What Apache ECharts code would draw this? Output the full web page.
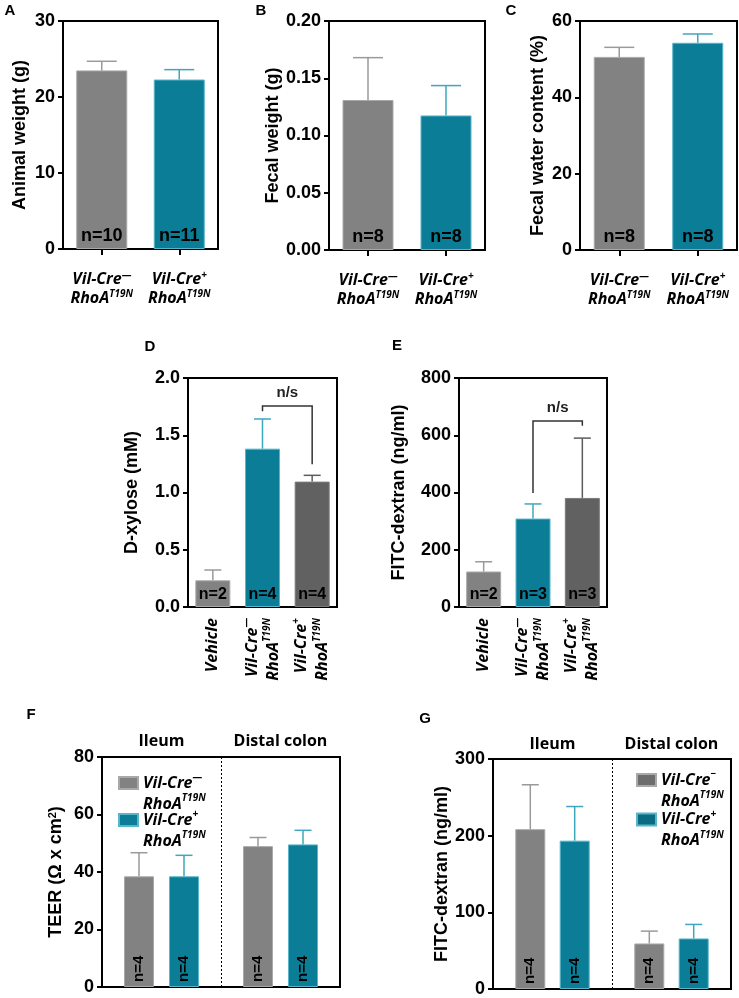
<!DOCTYPE html>
<html><head><meta charset="utf-8">
<script src="https://cdn.jsdelivr.net/npm/echarts@6/dist/echarts.min.js"></script>
<style>html,body{margin:0;padding:0;background:#fff}#c{width:739px;height:998px}</style>
</head><body><div id="c"></div>
<script>
// ---------------- data ----------------
const genoCats = ['Vil-Cre^—\nRhoA^T19N', 'Vil-Cre^+\nRhoA^T19N'];
const xyloseCats = ['Vehicle', 'Vil-Cre^—\nRhoA^T19N', 'Vil-Cre^+\nRhoA^T19N'];
const regionCats = ['Ileum', 'Distal colon'];

const weightMean = [23.5, 22.3];
const weightErr = [24.7, 23.6];
const weightN = [10, 11];
const weightAxis = [0, 30, 10];

const fecalMean = [0.131, 0.1175];
const fecalErr = [0.168, 0.1436];
const fecalN = [8, 8];
const fecalAxis = [0, 0.2, 0.05];

const waterMean = [50.6, 54.3];
const waterErr = [53.1, 56.6];
const waterN = [8, 8];
const waterAxis = [0, 60, 20];

const xyloseMean = [0.233, 1.383, 1.095];
const xyloseErr = [0.323, 1.642, 1.150];
const xyloseN = [2, 4, 4];
const xyloseAxis = [0, 2, 0.5];
const xyloseBracket = [1, 2, 1.755, 1.709, 1.246]; // from, to, top, left end, right end

const fitcMean = [124, 309, 381];
const fitcErr = [158, 360, 590];
const fitcN = [2, 3, 3];
const fitcAxis = [0, 800, 200];
const fitcBracket = [1, 2, 650, 398, 633];

const teerNegMean = [38.5, 49.0];
const teerNegErr = [46.7, 52.0];
const teerPosMean = [38.5, 49.6];
const teerPosErr = [45.8, 54.5];
const teerN = [4, 4];
const teerAxis = [0, 80, 20];

const gNegMean = [208.5, 59.4];
const gNegErr = [266.4, 75.5];
const gPosMean = [193.5, 65.9];
const gPosErr = [238, 84.2];
const gN = [4, 4];
const gAxis = [0, 300, 100];

const seriesNegF = 'Vil-Cre^—\nRhoA^T19N';
const seriesNegG = 'Vil-Cre^−\nRhoA^T19N';
const seriesPos = 'Vil-Cre^+\nRhoA^T19N';

// ---------------- styles ----------------
const GREY = '#828282', TEAL = '#0b7d96', DARK = '#616161';
const BORDER = {[GREY]: '#a9a9a9', [TEAL]: '#58b5ca', [DARK]: '#7b7b7b'};
const ERRC = {[GREY]: '#9a9a9a', [TEAL]: '#3ea7bd', [DARK]: '#5c5c5c'};
const ARIAL = '"Liberation Sans", Arial, sans-serif';
const OPEN = '"Open Sans", sans-serif';

function rich(str, b, s) {
  return str.split('\n').map(line => {
    const parts = line.split('^');
    return '{' + b + '|' + parts[0] + '}' + (parts[1] ? '{' + s + '|' + parts[1] + '}' : '');
  }).join('\n');
}
function catRich(size, lh) {
  return {
    b: {fontFamily: OPEN, fontWeight: 'bold', fontStyle: 'italic', fontSize: size, lineHeight: lh, color: '#000'},
    s: {fontFamily: OPEN, fontWeight: 'bold', fontStyle: 'italic', fontSize: Math.round(size * 0.64), lineHeight: Math.round(size * 0.64), verticalAlign: 'top', color: '#000'}
  };
}

const grids = [
  {left: 63, top: 21, width: 155, height: 228},
  {left: 329, top: 21, width: 156, height: 229},
  {left: 580, top: 21, width: 157, height: 229},
  {left: 188, top: 378, width: 149, height: 229},
  {left: 459, top: 378, width: 148, height: 229},
  {left: 102, top: 757, width: 238, height: 230},
  {left: 493, top: 759, width: 238, height: 230}
].map(g => Object.assign(g, {show: true, borderColor: '#000', borderWidth: 2, backgroundColor: 'transparent', containLabel: false, outerBoundsMode: 'none'}));

const yNames = ['Animal weight (g)', 'Fecal weight (g)', 'Fecal water content (%)', 'D-xylose (mM)', 'FITC-dextran (ng/ml)', '{t|TEER (Ω x cm}{s|2}{t|)}', 'FITC-dextran (ng/ml)'];
const yGaps = [34, 47, 33, 47, 51, 37, 40];
const yRanges = [weightAxis, fecalAxis, waterAxis, xyloseAxis, fitcAxis, teerAxis, gAxis];
const yDec = [0, 2, 0, 1, 0, 0, 0];

const yAxes = yRanges.map((r, i) => ({
  gridIndex: i, type: 'value', min: r[0], max: r[1], interval: r[2],
  splitLine: {show: false},
  axisLine: {show: true, lineStyle: {color: '#000', width: 2}},
  axisTick: {show: true, length: 5, lineStyle: {color: '#000', width: 2}},
  axisLabel: {margin: 8, color: '#000', fontFamily: ARIAL, fontWeight: 'bold', fontSize: 18, formatter: v => v.toFixed(yDec[i])},
  name: yNames[i], nameLocation: 'middle', nameGap: yGaps[i],
  nameTextStyle: {color: '#000', fontFamily: ARIAL, fontWeight: 'bold', fontSize: 18,
    rich: {t: {fontFamily: ARIAL, fontWeight: 'bold', fontSize: 18, color: '#000'}, s: {fontFamily: ARIAL, fontWeight: 'bold', fontSize: 11, verticalAlign: 'top', lineHeight: 10, color: '#000'}}}
}));

const xAxes = [];
[0, 1, 2].forEach(i => xAxes.push({
  gridIndex: i, type: 'category', data: genoCats,
  axisLine: {lineStyle: {color: '#000', width: 2}},
  axisTick: {show: true, alignWithLabel: true, length: 6, lineStyle: {color: '#000', width: 2}},
  axisLabel: {interval: 0, margin: 21, formatter: v => rich(v, 'b', 's'), rich: catRich(16, 19)}
}));
[3, 4].forEach(i => xAxes.push({
  gridIndex: i, type: 'category', data: xyloseCats,
  axisLine: {lineStyle: {color: '#000', width: 2}},
  axisTick: {show: false},
  axisLabel: {interval: 0, rotate: 90, margin: 11, formatter: v => rich(v, 'b', 's'), rich: catRich(16, 21)}
}));
[5, 6].forEach(i => xAxes.push({
  gridIndex: i, type: 'category', data: regionCats, position: 'top',
  axisLine: {lineStyle: {color: '#000', width: 2}},
  axisTick: {show: false},
  splitLine: {show: true, lineStyle: {color: '#000', width: 1, type: [2, 2]}},
  axisLabel: {interval: 0, margin: i === 5 ? 8 : 7, color: '#000', fontFamily: OPEN, fontWeight: 'bold', fontSize: 16}
}));

const series = [];
function simplePanel(gi, means, errs, ns, colors, bw, cap, nSize) {
  series.push({
    type: 'bar', xAxisIndex: gi, yAxisIndex: gi, barWidth: bw,
    data: means.map((v, i) => ({value: v, itemStyle: {color: colors[i], borderColor: BORDER[colors[i]], borderWidth: 1}})),
    label: {show: true, position: 'insideBottom', distance: 4, color: '#000', fontFamily: ARIAL, fontWeight: 'bold', fontSize: nSize,
      formatter: p => 'n=' + ns[p.dataIndex]}
  });
  series.push(errSeries(gi, means, errs, i => colors[i], cap, 0));
}
function errSeries(gi, means, errs, colorOf, cap, offset) {
  return {
    type: 'custom', xAxisIndex: gi, yAxisIndex: gi, z: 3,
    data: means.map((m, i) => [i, m, errs[i]]),
    encode: {x: 0, y: 1},
    renderItem: (params, api) => {
      const x = api.value(0);
      const p0 = api.coord([x, api.value(1)]);
      const p1 = api.coord([x, api.value(2)]);
      const cx = p0[0] + offset;
      const col = ERRC[colorOf(params.dataIndex)];
      return {type: 'group', children: [
        {type: 'line', shape: {x1: cx, y1: p0[1], x2: cx, y2: p1[1]}, style: {stroke: col, lineWidth: 1.5}},
        {type: 'line', shape: {x1: cx - cap / 2, y1: p1[1], x2: cx + cap / 2, y2: p1[1]}, style: {stroke: col, lineWidth: 1.5}}
      ]};
    }
  };
}
function bracketSeries(gi, b) {
  return {
    type: 'custom', xAxisIndex: gi, yAxisIndex: gi, z: 4, data: [b], encode: {x: 0, y: 2},
    renderItem: (params, api) => {
      const t1 = api.coord([api.value(0), api.value(2)]);
      const t2 = api.coord([api.value(1), api.value(2)]);
      const e1 = api.coord([api.value(0), api.value(3)]);
      const e2 = api.coord([api.value(1), api.value(4)]);
      return {type: 'group', children: [
        {type: 'polyline', shape: {points: [e1, t1, t2, e2]}, style: {stroke: '#333', lineWidth: 1.5, fill: null}},
        {type: 'text', style: {text: 'n/s', x: (t1[0] + t2[0]) / 2, y: t1[1] - 6, align: 'center', verticalAlign: 'bottom',
          font: 'bold 15px ' + ARIAL, fill: '#222'}}
      ]};
    }
  };
}
function groupedPanel(gi, negName, negMean, negErr, posMean, posErr, ns, bw, gap, cap) {
  const lab = {show: true, position: 'insideBottom', rotate: 90, align: 'left', verticalAlign: 'middle', distance: 5,
    color: '#000', fontFamily: ARIAL, fontWeight: 'bold', fontSize: 15, formatter: p => 'n=' + ns[p.dataIndex]};
  series.push({type: 'bar', name: negName, xAxisIndex: gi, yAxisIndex: gi, barWidth: bw, barGap: (gap * 100) + '%',
    itemStyle: {color: GREY, borderColor: BORDER[GREY], borderWidth: 1}, data: negMean, label: lab});
  series.push({type: 'bar', name: seriesPos, xAxisIndex: gi, yAxisIndex: gi, barWidth: bw, barGap: (gap * 100) + '%',
    itemStyle: {color: TEAL, borderColor: BORDER[TEAL], borderWidth: 1}, data: posMean, label: lab});
  const off = bw * (1 + gap) / 2;
  series.push(errSeries(gi, negMean, negErr, () => GREY, cap, -off));
  series.push(errSeries(gi, posMean, posErr, () => TEAL, cap, off));
}

simplePanel(0, weightMean, weightErr, weightN, [GREY, TEAL], 51, 30, 18);
simplePanel(1, fecalMean, fecalErr, fecalN, [GREY, TEAL], 51, 30, 18);
simplePanel(2, waterMean, waterErr, waterN, [GREY, TEAL], 51, 30, 18);
simplePanel(3, xyloseMean, xyloseErr, xyloseN, [GREY, TEAL, DARK], 35, 17, 16);
simplePanel(4, fitcMean, fitcErr, fitcN, [GREY, TEAL, DARK], 35, 17, 16);
series.push(bracketSeries(3, xyloseBracket));
series.push(bracketSeries(4, fitcBracket));
groupedPanel(5, seriesNegF, teerNegMean, teerNegErr, teerPosMean, teerPosErr, teerN, 30, 0.5, 17);
groupedPanel(6, seriesNegG, gNegMean, gNegErr, gPosMean, gPosErr, gN, 30, 0.48, 17);

const legendRich = {
  p: {fontFamily: OPEN, fontWeight: 'bold', fontSize: 16, lineHeight: 21, color: 'rgba(0,0,0,0)'},
  b: {fontFamily: OPEN, fontWeight: 'bold', fontStyle: 'italic', fontSize: 16, lineHeight: 21, color: '#000'},
  s: {fontFamily: OPEN, fontWeight: 'bold', fontStyle: 'italic', fontSize: 10, lineHeight: 10, verticalAlign: 'top', color: '#000'}
};
function legendItem(name, left, top, color) {
  return {
    data: [color ? {name: name, itemStyle: {color: color}} : name],
    left: left, top: top, padding: 0, orient: 'vertical', icon: 'rect', itemWidth: 19, itemHeight: 12,
    selectedMode: false, formatter: n => '{p|.}\n' + rich(n, 'b', 's'),
    textStyle: {fontSize: 16, lineHeight: 21, rich: legendRich}
  };
}

const letters = [['A', 10, 11], ['B', 261, 10.5], ['C', 511, 11], ['D', 150, 347], ['E', 397, 346], ['F', 31, 714.5], ['G', 425, 718.5]];

const chart = echarts.init(document.getElementById('c'), null, {renderer: 'canvas'});
chart.setOption({
  animation: false,
  backgroundColor: '#fff',
  grid: grids,
  xAxis: xAxes,
  yAxis: yAxes,
  series: series,
  legend: [
    legendItem(seriesNegF, 118, 751.5),
    legendItem(seriesPos, 118, 788.5),
    legendItem(seriesNegG, 636, 748.5),
    legendItem(seriesPos, 636, 788, '#0b6b80')
  ].map((l, i) => (i === 2 ? Object.assign(l, {data: [{name: seriesNegG, itemStyle: {color: '#6d6d6d'}}]}) : l)),
  graphic: letters.map(l => ({type: 'text', style: {text: l[0], x: l[1], y: l[2], align: 'center', verticalAlign: 'middle', font: 'bold 15px ' + ARIAL, fill: '#000'}}))
});
</script></body></html>
